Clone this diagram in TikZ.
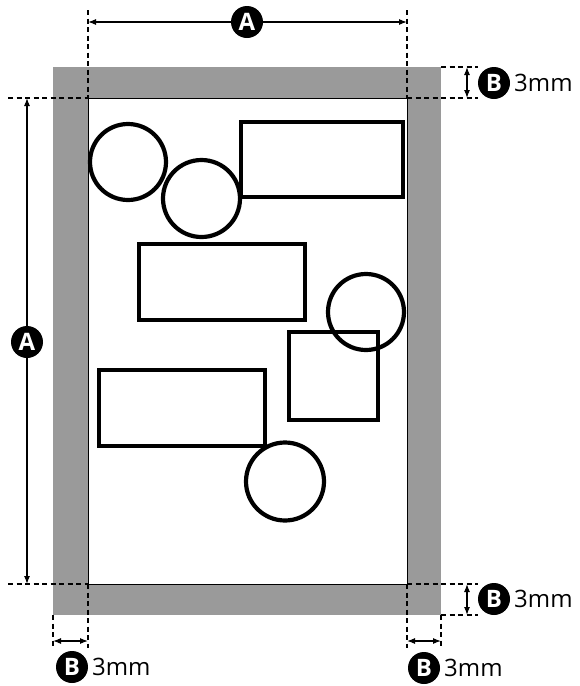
\documentclass[tikz,border=0pt]{standalone}
\usepackage{fontspec}
\setmainfont{Open Sans}
\usetikzlibrary{arrows.meta}
\definecolor{bleedgray}{HTML}{9A9A9A}
\tikzset{
  badge/.style={circle,fill=black,text=white,inner sep=0pt,minimum size=32pt,
    font=\fontsize{24}{24}\selectfont\bfseries},
  sizelabel/.style={anchor=west,inner sep=0pt,font=\fontsize{24}{24}\selectfont},
  cutline/.style={line width=1.1pt,dash pattern=on 5pt off 3.5pt},
  dimline/.style={line width=1.1pt,{Latex[length=8pt,width=6pt]}-{Latex[length=8pt,width=6pt]}},
  item/.style={line width=4.2pt},
}
\begin{document}
\begin{tikzpicture}[x=1pt,y=-1pt]
\useasboundingbox (0,0) rectangle (579,686);

% bleed and trim
\fill[bleedgray] (53,67) rectangle (441,615);
\draw[fill=white,line width=1pt] (88,98) rectangle (407,584);

% page content
\draw[item] (128,162) circle[radius=38pt];
\draw[item,fill=white] (201.5,198.5) circle[radius=38.5pt];
\draw[item] (241,122) rectangle (403,197);
\draw[item] (139,244) rectangle (305,320);
\draw[item] (289,332) rectangle (378,420);
\draw[item] (366,312) circle[radius=38pt];
\draw[item] (99,370) rectangle (265,446);
\draw[item,fill=white] (285,481.5) circle[radius=39pt];

% guide ends
\coordinate (t1)  at (88,10);
\coordinate (t2)  at (407,10);
\coordinate (l1)  at (8,98);
\coordinate (l2)  at (8,584);
\coordinate (tl)  at (88,98);
\coordinate (tr)  at (407,98);
\coordinate (bl)  at (88,584);
\coordinate (br)  at (407,584);
\coordinate (btr) at (441,67);
\coordinate (bbr) at (441,615);
\coordinate (bbl) at (53,615);
\coordinate (r1)  at (478,67);
\coordinate (r2)  at (478,98);
\coordinate (r3)  at (478,584);
\coordinate (r4)  at (478,615);
\coordinate (d1)  at (53,648);
\coordinate (d2)  at (88,648);
\coordinate (d3)  at (407,648);
\coordinate (d4)  at (441,648);

\draw[cutline] (t1) -- (tl);
\draw[cutline] (t2) -- (tr);
\draw[cutline] (l1) -- (tl);
\draw[cutline] (l2) -- (bl);
\draw[cutline] (tr) -- (r2);
\draw[cutline] (btr) -- (r1);
\draw[cutline] (br) -- (r3);
\draw[cutline] (bbr) -- (r4);
\draw[cutline] (bbl) -- (d1);
\draw[cutline] (bl) -- (d2);
\draw[cutline] (br) -- (d3);
\draw[cutline] (bbr) -- (d4);

% dimension arrows
\coordinate (aw1) at (88,22);
\coordinate (aw2) at (407,22);
\coordinate (ah1) at (27,98);
\coordinate (ah2) at (27,584);
\coordinate (bt1) at (467,67);
\coordinate (bt2) at (467,98);
\coordinate (bb1) at (467,584);
\coordinate (bb2) at (467,615);
\coordinate (bl1) at (53,641);
\coordinate (bl2) at (88,641);
\coordinate (br1) at (407,641);
\coordinate (br2) at (441,641);

\draw[dimline] (aw1) -- (aw2);
\draw[dimline] (ah1) -- (ah2);
\draw[dimline] (bt1) -- (bt2);
\draw[dimline] (bb1) -- (bb2);
\draw[dimline] (bl1) -- (bl2);
\draw[dimline] (br1) -- (br2);

% labels
\node[badge] (atop)  at (247,22)  {A};
\node[badge] (aleft) at (27,342)  {A};
\node[badge] (btop)  at (494,83)  {B};
\node[badge] (bbot)  at (494,599) {B};
\node[badge] (bleft) at (72,667)  {B};
\node[badge] (bright) at (424,668) {B};

\node[sizelabel] (mtop)   at (514,83)  {3mm};
\node[sizelabel] (mbot)   at (514,599) {3mm};
\node[sizelabel] (mleft)  at (92,667)  {3mm};
\node[sizelabel] (mright) at (444,668) {3mm};

\end{tikzpicture}
\end{document}
